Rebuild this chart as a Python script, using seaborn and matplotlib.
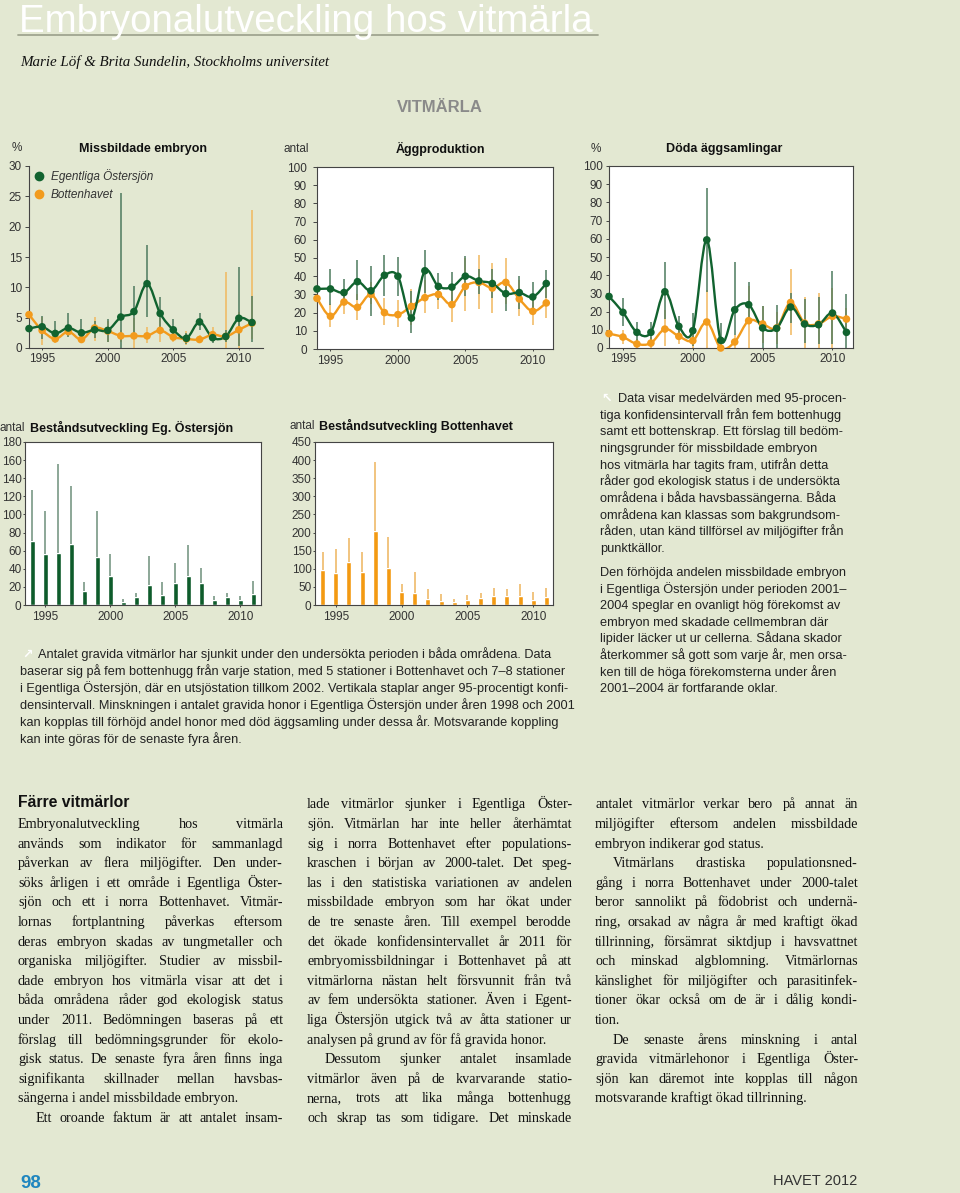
import matplotlib
matplotlib.use("Agg")
import matplotlib.pyplot as plt
from matplotlib.path import Path
from matplotlib.patches import PathPatch
from matplotlib.lines import Line2D
import numpy as np
import pandas as pd
import seaborn as sns

W, H = 960, 1193
BG = "#e3e8d2"
GREEN = "#11632f"
ORANGE = "#f29b1d"
GREEN_ERR = "#4d7a5e"
ORANGE_ERR = "#f1b85e"
BAR_GREEN = "#0e5c2b"
BAR_ORANGE = "#f39a12"
BAR_GREEN_ERR = "#6d907a"
BAR_ORANGE_ERR = "#eeb45c"
SANS = ["Liberation Sans", "DejaVu Sans"]
SERIF = ["Liberation Serif", "DejaVu Serif"]

years = list(range(1994, 2012))
year_ticks = [1995, 2000, 2005, 2010]

# Missbildade embryon (%)
miss_eg = [3.2, 3.5, 2.4, 3.3, 2.5, 3.0, 2.9, 5.1, 6.0, 10.6, 5.7, 3.0, 1.6, 4.3, 1.7, 1.9, 4.9, 4.2]
miss_eg_lo = [0.3, 1.5, 1.0, 1.8, 0.8, 1.7, 1.0, 0.0, 2.0, 5.1, 3.0, 1.3, 0.7, 3.0, 0.9, 1.0, 0.3, 1.0]
miss_eg_hi = [5.0, 5.2, 4.5, 5.8, 4.8, 4.5, 4.8, 25.6, 10.3, 16.9, 8.4, 4.8, 2.5, 5.7, 2.5, 3.0, 13.3, 8.5]
miss_bh = [5.5, 2.9, 1.5, 2.7, 1.4, 3.3, 2.8, 2.0, 2.0, 2.0, 2.9, 1.8, 1.5, 1.4, 2.2, 1.9, 3.0, 4.1]
miss_bh_lo = [3.0, 0.5, 0.8, 2.0, 1.0, 1.1, 1.0, 1.0, 0.0, 0.8, 1.0, 1.0, 0.5, 0.8, 1.0, 0.0, 0.0, 1.5]
miss_bh_hi = [8.0, 5.1, 2.6, 3.6, 2.1, 5.1, 4.5, 3.0, 5.0, 3.4, 5.0, 2.6, 2.8, 2.1, 3.5, 12.5, 6.0, 22.7]

# Äggproduktion (antal)
egg_eg = [33, 33, 31, 37, 32, 40.5, 40, 17, 43, 34.4, 34, 40, 37.4, 36, 30.4, 31, 28.6, 36]
egg_eg_lo = [25, 24, 25, 27, 18, 29, 29, 9, 31, 27, 25, 29, 30, 28, 21, 22, 20, 28]
egg_eg_hi = [42, 44, 38.6, 48.7, 45.4, 51.8, 50.7, 32, 54.6, 41.8, 42.5, 51, 44, 44, 38, 40, 36.8, 43.2]
egg_bh = [27.8, 18, 25.8, 22.9, 30, 20, 18.9, 23.4, 28.2, 30, 24.4, 34.4, 36.6, 33.5, 36.6, 27.5, 20.7, 25.3]
egg_bh_lo = [22, 12, 19, 16, 25, 13, 12, 13, 20, 22, 15, 21, 22, 20, 25, 18, 13, 17]
egg_bh_hi = [34, 25, 30, 30, 37, 28, 27, 33, 38, 35, 35, 50, 51.5, 47, 50, 38, 27, 34]

# Döda äggsamlingar (%)
dead_eg = [28.3, 19.6, 8.6, 8.6, 30.9, 11.9, 9.5, 59.4, 4.2, 21, 23.8, 11, 10.8, 22.5, 13.2, 12.8, 19.2, 8.6]
dead_eg_lo = [22.9, 12, 3, 3, 16, 6, 1, 31, 0, 7, 14, 0, 0, 14, 3, 2, 2, 0]
dead_eg_hi = [34.2, 27.5, 14.5, 14.5, 47, 17.5, 19.5, 87.8, 14, 47, 36.5, 23, 23.5, 30, 27, 28, 42.5, 29.5]
dead_bh = [7.9, 6.0, 2.2, 2.7, 10.4, 6.4, 4.0, 14.3, 0, 3.3, 15, 13.2, 11, 25, 13.7, 13.2, 17.4, 15.9]
dead_bh_lo = [4, 2, 0, 0, 1, 2, 0, 0, 0, 0, 0, 3, 2, 7, 0, 0, 0, 10]
dead_bh_hi = [12, 10, 5, 6, 21, 12, 9, 32, 2, 7, 34, 23, 20, 43.5, 28, 30, 33, 22]

# Beståndsutveckling (antal)
pop_eg = [70.5, 56.4, 57.2, 67.5, 15.5, 53.1, 32.5, 3.3, 9.2, 22.5, 11.4, 24.7, 32.5, 24.7, 5.9, 9.2, 5.9, 12.5]
pop_eg_hi = [126.9, 103.3, 156, 131, 25.5, 103.3, 56.4, 6.6, 13.3, 54.6, 25.5, 46.5, 66.4, 41, 10.3, 13.6, 10.3, 26.9]
pop_bh = [96.8, 87.6, 118, 90.4, 203, 101.4, 36, 33.2, 16.6, 11, 7.4, 12.9, 19.4, 24.9, 24.9, 24.9, 13.8, 22.1]
pop_bh_hi = [146.6, 154, 184.4, 145.7, 394.6, 187.2, 58, 91.3, 44.3, 30.4, 16.6, 26.7, 33.2, 47, 44.3, 58, 36, 46]

areas = ["Egentliga Östersjön", "Bottenhavet"]

NOTE_RIGHT_1 = [
    "Data visar medelvärden med 95-procen-",
    "tiga konfidensintervall från fem bottenhugg",
    "samt ett bottenskrap. Ett förslag till bedöm-",
    "ningsgrunder för missbildade embryon",
    "hos vitmärla har tagits fram, utifrån detta",
    "råder god ekologisk status i de undersökta",
    "områdena i båda havsbassängerna. Båda",
    "områdena kan klassas som bakgrundsom-",
    "råden, utan känd tillförsel av miljögifter från",
    "punktkällor.",
]
NOTE_RIGHT_2 = [
    "Den förhöjda andelen missbildade embryon",
    "i Egentliga Östersjön under perioden 2001–",
    "2004 speglar en ovanligt hög förekomst av",
    "embryon med skadade cellmembran där",
    "lipider läcker ut ur cellerna. Sådana skador",
    "återkommer så gott som varje år, men orsa-",
    "ken till de höga förekomsterna under åren",
    "2001–2004 är fortfarande oklar.",
]
NOTE_BOTTOM = [
    "Antalet gravida vitmärlor har sjunkit under den undersökta perioden i båda områdena. Data",
    "baserar sig på fem bottenhugg från varje station, med 5 stationer i Bottenhavet och 7–8 stationer",
    "i Egentliga Östersjön, där en utsjöstation tillkom 2002. Vertikala staplar anger 95-procentigt konfi-",
    "densintervall. Minskningen i antalet gravida honor i Egentliga Östersjön under åren 1998 och 2001",
    "kan kopplas till förhöjd andel honor med död äggsamling under dessa år. Motsvarande koppling",
    "kan inte göras för de senaste fyra åren.",
]
# leading spaces = indented first line, trailing "|" = last line of a paragraph
COL1 = [
    "Embryonalutveckling hos vitmärla",
    "används som indikator för sammanlagd",
    "påverkan av flera miljögifter. Den under-",
    "söks årligen i ett område i Egentliga Öster-",
    "sjön och ett i norra Bottenhavet. Vitmär-",
    "lornas fortplantning påverkas eftersom",
    "deras embryon skadas av tungmetaller och",
    "organiska miljögifter. Studier av missbil-",
    "dade embryon hos vitmärla visar att det i",
    "båda områdena råder god ekologisk status",
    "under 2011. Bedömningen baseras på ett",
    "förslag till bedömningsgrunder för ekolo-",
    "gisk status. De senaste fyra åren finns inga",
    "signifikanta skillnader mellan havsbas-",
    "sängerna i andel missbildade embryon.|",
    "  Ett oroande faktum är att antalet insam-",
]
COL2 = [
    "lade vitmärlor sjunker i Egentliga Öster-",
    "sjön. Vitmärlan har inte heller återhämtat",
    "sig i norra Bottenhavet efter populations-",
    "kraschen i början av 2000-talet. Det speg-",
    "las i den statistiska variationen av andelen",
    "missbildade embryon som har ökat under",
    "de tre senaste åren. Till exempel berodde",
    "det ökade konfidensintervallet år 2011 för",
    "embryomissbildningar i Bottenhavet på att",
    "vitmärlorna nästan helt försvunnit från två",
    "av fem undersökta stationer. Även i Egent-",
    "liga Östersjön utgick två av åtta stationer ur",
    "analysen på grund av för få gravida honor.|",
    "  Dessutom sjunker antalet insamlade",
    "vitmärlor även på de kvarvarande statio-",
    "nerna, trots att lika många bottenhugg",
    "och skrap tas som tidigare. Det minskade",
]
COL3 = [
    "antalet vitmärlor verkar bero på annat än",
    "miljögifter eftersom andelen missbildade",
    "embryon indikerar god status.|",
    "  Vitmärlans drastiska populationsned-",
    "gång i norra Bottenhavet under 2000-talet",
    "beror sannolikt på födobrist och undernä-",
    "ring, orsakad av några år med kraftigt ökad",
    "tillrinning, försämrat siktdjup i havsvattnet",
    "och minskad algblomning. Vitmärlornas",
    "känslighet för miljögifter och parasitinfek-",
    "tioner ökar också om de är i dålig kondi-",
    "tion.|",
    "  De senaste årens minskning i antal",
    "gravida vitmärlehonor i Egentliga Öster-",
    "sjön kan däremot inte kopplas till någon",
    "motsvarande kraftigt ökad tillrinning.|",
]

sns.set_theme(style="ticks")
plt.rcParams["font.family"] = SANS
plt.rcParams["axes.edgecolor"] = "#444444"
plt.rcParams["axes.linewidth"] = 0.8

fig = plt.figure(figsize=(W / 100, H / 100), dpi=100, facecolor=BG)
renderer = fig.canvas.get_renderer()


def px_axes(left, top, right, bottom):
    return fig.add_axes([left / W, 1 - bottom / H, (right - left) / W, (bottom - top) / H])


def ftext(x, y, s, **kw):
    return fig.text(x / W, 1 - y / H, s, **kw)


def text_width(s, **kw):
    t = fig.text(0, 0, s, **kw)
    w = t.get_window_extent(renderer).width
    t.remove()
    return w


def smooth_path(x, y):
    # smoothed line through the points (cubic bezier segments)
    pts = np.column_stack([x, y]).astype(float)
    n = len(pts)
    verts, codes = [pts[0]], [Path.MOVETO]
    for i in range(n - 1):
        p0 = pts[max(i - 1, 0)]
        p1, p2 = pts[i], pts[i + 1]
        p3 = pts[min(i + 2, n - 1)]
        verts += [p1 + (p2 - p0) / 6, p2 - (p3 - p1) / 6, p2]
        codes += [Path.CURVE4] * 3
    return Path(verts, codes)


def style_axis(ax, tick_len, pad_px, boxed):
    ax.tick_params(axis="both", direction="out", length=tick_len * 0.72, width=0.7,
                   color="#444444", labelsize=8.5, labelcolor="#333333", pad=pad_px * 0.72)
    ax.tick_params(axis="x", length=2.5 * 0.72, pad=3 * 0.72)
    ax.set_xlabel("")
    ax.set_ylabel("")
    if boxed:
        ax.set_facecolor("white")
        for sp in ax.spines.values():
            sp.set_visible(True)
    else:
        ax.set_facecolor("none")
        ax.spines["top"].set_visible(False)
        ax.spines["right"].set_visible(False)


def line_panel(ax, eg, eg_lo, eg_hi, bh, bh_lo, bh_hi, xmax, ymax, ystep):
    ax.vlines(years, bh_lo, bh_hi, color=ORANGE_ERR, lw=1.1, zorder=1)
    ax.vlines(years, eg_lo, eg_hi, color=GREEN_ERR, lw=1.1, zorder=1)
    for vals, col in ((bh, ORANGE), (eg, GREEN)):
        ax.add_patch(PathPatch(smooth_path(years, vals), fc="none", ec=col, lw=1.7, zorder=3))
    df = pd.DataFrame({"year": years * 2, "value": bh + eg,
                       "area": [areas[1]] * len(years) + [areas[0]] * len(years)})
    sns.scatterplot(data=df, x="year", y="value", hue="area",
                    palette={areas[0]: GREEN, areas[1]: ORANGE}, s=30, linewidth=0,
                    legend=False, ax=ax, zorder=4, clip_on=False)
    ax.set_xlim(1994, xmax)
    ax.set_ylim(0, ymax)
    ax.set_yticks(np.arange(0, ymax + 1, ystep))
    ax.set_xticks(year_ticks)


def bar_panel(ax, vals, hi, color, err_color, ymax, ystep, xlim):
    sns.barplot(x=years, y=vals, native_scale=True, color=color, saturation=1,
                width=0.38, errorbar=None, ax=ax, zorder=2)
    ax.vlines(years, vals, hi, color=err_color, lw=1.1, zorder=3)
    ax.set_xlim(*xlim)
    ax.set_ylim(0, ymax)
    ax.set_yticks(np.arange(0, ymax + 1, ystep))
    ax.set_xticks(year_ticks)
    ax.set_xticklabels([str(y) for y in year_ticks])


# --- header
title = "Embryonalutveckling hos vitmärla"
tw = text_width(title, fontsize=30, family=SANS)
ftext(19, 32, title, fontsize=30 * 572 / tw, family=SANS, color="white", va="baseline")
fig.add_artist(Line2D([18 / W, 598 / W], [1 - 35 / H] * 2, color="#a0a590", lw=1.3))
ftext(20, 62, "Marie Löf & Brita Sundelin, Stockholms universitet", fontsize=10.8,
      family=SERIF, style="italic", color="#111111", va="center")
ftext(440, 108, "VITMÄRLA", fontsize=12, fontweight="bold", color="#8a8a8a",
      ha="center", va="center")

# --- top row of line charts
ax1 = px_axes(29, 166, 263, 348)
line_panel(ax1, miss_eg, miss_eg_lo, miss_eg_hi, miss_bh, miss_bh_lo, miss_bh_hi, 2011.84, 30, 5)
style_axis(ax1, 4, 3, boxed=False)
handles = [Line2D([], [], marker="o", ls="none", color=c, markersize=6) for c in (GREEN, ORANGE)]
leg = ax1.legend(handles, areas, loc="upper left", bbox_to_anchor=(34 / W, 1 - 169 / H),
                 bbox_transform=fig.transFigure, frameon=False, handlelength=0.9,
                 handletextpad=0.5, labelspacing=0.55, borderpad=0, borderaxespad=0,
                 prop={"family": SANS, "style": "italic", "size": 8.5})
for t in leg.get_texts():
    t.set_color("#333333")

ax2 = px_axes(317, 167, 553, 349)
line_panel(ax2, egg_eg, egg_eg_lo, egg_eg_hi, egg_bh, egg_bh_lo, egg_bh_hi, 2011.5, 100, 10)
style_axis(ax2, 4, 6, boxed=True)

ax3 = px_axes(609, 166, 853, 348)
line_panel(ax3, dead_eg, dead_eg_lo, dead_eg_hi, dead_bh, dead_bh_lo, dead_bh_hi, 2011.47, 100, 10)
style_axis(ax3, 3, 3, boxed=True)

for x, y, s in ((17, 148, "%"), (296, 149, "antal"), (596, 149, "%")):
    ftext(x, y, s, fontsize=8.5, color="#333333", ha="center", va="center")
for x, s in ((143, "Missbildade embryon"), (440, "Äggproduktion"), (724, "Döda äggsamlingar")):
    ftext(x, 149, s, fontsize=9, fontweight="bold", color="#111111", ha="center", va="center")

# --- bar charts
ax4 = px_axes(25, 442, 261, 605)
bar_panel(ax4, pop_eg, pop_eg_hi, BAR_GREEN, BAR_GREEN_ERR, 180, 20, (1993.44, 2011.6))
style_axis(ax4, 2, 1.5, boxed=True)

ax5 = px_axes(315, 442, 553, 605)
bar_panel(ax5, pop_bh, pop_bh_hi, BAR_ORANGE, BAR_ORANGE_ERR, 450, 50, (1993.42, 2011.5))
style_axis(ax5, 2, 1.5, boxed=True)

ftext(0, 428, "antal", fontsize=8.5, color="#333333", va="center")
ftext(30, 428, "Beståndsutveckling Eg. Östersjön", fontsize=9, fontweight="bold",
      color="#111111", va="center")
ftext(289, 426, "antal", fontsize=8.5, color="#333333", va="center")
ftext(319, 426, "Beståndsutveckling Bottenhavet", fontsize=9, fontweight="bold",
      color="#111111", va="center")

# --- figure notes
NOTE_FS = 9.2
ftext(601, 402, "↖", fontsize=9, family=["DejaVu Sans"], fontweight="bold", color="white",
      va="baseline")
for i, line in enumerate(NOTE_RIGHT_1):
    ftext(618 if i == 0 else 600, 402 + i * 16.65, line, fontsize=NOTE_FS, color="#222222",
          va="baseline")
for i, line in enumerate(NOTE_RIGHT_2):
    ftext(600, 576 + i * 16.6, line, fontsize=NOTE_FS, color="#222222", va="baseline")

ftext(22, 658, "↗", fontsize=9, family=["DejaVu Sans"], fontweight="bold", color="white",
      va="baseline")
for i, line in enumerate(NOTE_BOTTOM):
    ftext(38 if i == 0 else 20, 658 + i * 17, line, fontsize=NOTE_FS, color="#222222",
          va="baseline")


# --- body text, justified columns
BODY_FS = 10.2


def body_column(x0, x1, y0, step, lines):
    for i, raw in enumerate(lines):
        y = y0 + i * step
        indent = 18 if raw.startswith("  ") else 0
        last = raw.endswith("|")
        s = raw.strip().rstrip("|")
        words = s.split(" ")
        kw = dict(fontsize=BODY_FS, family=SERIF, color="#111111", va="baseline")
        if last or len(words) == 1:
            ftext(x0 + indent, y, s, **kw)
            continue
        widths = [text_width(w, fontsize=BODY_FS, family=SERIF) for w in words]
        gap = (x1 - x0 - indent - sum(widths)) / (len(words) - 1)
        x = x0 + indent
        for w, wd in zip(words, widths):
            ftext(x, y, w, **kw)
            x += wd + gap


ftext(18, 807, "Färre vitmärlor", fontsize=11.3, fontweight="bold", color="#111111",
      va="baseline")
body_column(18, 283, 828, 19.6, COL1)
body_column(307, 572, 808.4, 19.6, COL2)
body_column(595, 858, 808.4, 19.6, COL3)

# --- footer
ftext(20, 1188, "98", fontsize=13.5, fontweight="bold", color="#1f86bf", va="baseline")
ftext(857, 1185, "HAVET 2012", fontsize=10.5, color="#333333", ha="right", va="baseline",
      family=["Liberation Sans Narrow", "Liberation Sans"])

fig.savefig("out.png", dpi=100, facecolor=BG)
